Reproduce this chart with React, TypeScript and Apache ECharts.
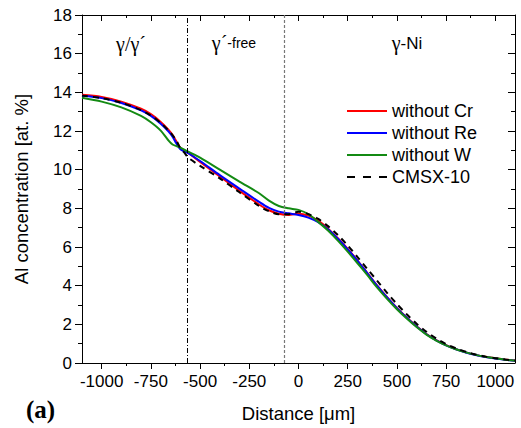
import React, { useEffect, useRef } from "react";
import * as echarts from "echarts";

const distance = [-1100, -1000, -900, -800, -750, -700, -660, -640, -620, -600, -580, -560, -500, -400, -300, -200, -150, -100, -50, 0, 50, 100, 150, 200, 250, 300, 350, 400, 450, 500, 550, 600, 650, 700, 750, 800, 850, 900, 950, 1000, 1050, 1100];
const withoutCr = [13.87, 13.76, 13.52, 13.15, 12.87, 12.47, 12.06, 11.8, 11.45, 11.12, 10.98, 10.87, 10.4, 9.65, 8.9, 8.2, 7.9, 7.72, 7.66, 7.72, 7.62, 7.36, 6.95, 6.45, 5.9, 5.3, 4.65, 4.0, 3.4, 2.85, 2.35, 1.9, 1.5, 1.18, 0.92, 0.72, 0.55, 0.42, 0.32, 0.24, 0.18, 0.13];
const withoutRe = [13.82, 13.7, 13.45, 13.07, 12.78, 12.38, 11.97, 11.7, 11.35, 11.05, 10.95, 10.85, 10.45, 9.72, 9.02, 8.33, 8.02, 7.83, 7.74, 7.66, 7.52, 7.28, 6.92, 6.43, 5.88, 5.28, 4.64, 3.99, 3.39, 2.84, 2.34, 1.89, 1.49, 1.17, 0.91, 0.71, 0.54, 0.41, 0.31, 0.23, 0.17, 0.12];
const withoutW = [13.72, 13.52, 13.22, 12.78, 12.45, 12.02, 11.5, 11.3, 11.22, 11.14, 11.03, 10.93, 10.62, 10.0, 9.38, 8.78, 8.4, 8.12, 8.0, 7.92, 7.7, 7.3, 6.85, 6.33, 5.76, 5.16, 4.54, 3.9, 3.32, 2.78, 2.3, 1.86, 1.47, 1.16, 0.91, 0.71, 0.55, 0.42, 0.32, 0.24, 0.17, 0.12];
const cmsx10 = [13.83, 13.7, 13.46, 13.08, 12.8, 12.42, 12.02, 11.78, 11.5, 11.1, 10.88, 10.62, 10.2, 9.55, 8.83, 8.12, 7.85, 7.7, 7.7, 7.82, 7.7, 7.45, 7.08, 6.62, 6.08, 5.48, 4.86, 4.25, 3.63, 3.05, 2.52, 2.03, 1.62, 1.27, 0.98, 0.76, 0.58, 0.44, 0.33, 0.25, 0.18, 0.13];

const xMajorTicks = [-1000, -750, -500, -250, 0, 250, 500, 750, 1000];
const xMinorTicks = [-875, -625, -375, -125, 125, 375, 625, 875];
const boundaries = [-565, -70];
const seriesNames = ["without Cr", "without Re", "without W", "CMSX-10"];
const seriesColors = ["#ff0000", "#0000ff", "#138a13", "#000000"];

export default function App() {
  const ref = useRef<HTMLDivElement>(null);
  useEffect(() => {
    const chart = echarts.init(ref.current!, null, { renderer: "svg" });
    const pair = (ys: number[]) => distance.map((x, i) => [x, ys[i]]);
    const sans = "'Liberation Sans', Arial, sans-serif";
    const serif = "'Liberation Serif', 'Times New Roman', serif";
    const black = { color: "#000", width: 1 };
    const baseX = { type: "value", min: -1100, max: 1100, splitLine: { show: false } };
    const baseY = { type: "value", min: 0, max: 18, interval: 2, splitLine: { show: false } };
    const solidIcon = "path://M0,0h40v2h-40z";
    const dashIcon = "path://M0,0h8v2h-8zM16,0h8v2h-8zM32,0h8v2h-8z";
    const lineSeries = (i: number, ys: number[], type: any, z: number) => ({
      name: seriesNames[i],
      type: "line",
      data: pair(ys),
      symbol: "none",
      showSymbol: false,
      smooth: 0.3,
      z,
      lineStyle: { color: seriesColors[i], width: 2, type },
      itemStyle: { color: seriesColors[i] },
    });
    const series: any[] = [
      lineSeries(0, withoutCr, "solid", 2),
      lineSeries(1, withoutRe, "solid", 3),
      lineSeries(2, withoutW, "solid", 4),
      lineSeries(3, cmsx10, [6, 5], 5),
    ];
    series[0].markLine = {
      silent: true,
      symbol: "none",
      label: { show: false },
      data: [
        { xAxis: boundaries[0], lineStyle: { color: "#000", width: 1, type: [5, 2, 1, 2] } },
        { xAxis: boundaries[1], lineStyle: { color: "#777", width: 1.2, type: [3, 2] } },
      ],
    };
    chart.setOption({
      animation: false,
      backgroundColor: "#fff",
      grid: { left: 82, top: 15, width: 433, height: 349 },
      legend: {
        left: 342,
        top: 97,
        orient: "vertical",
        itemWidth: 40,
        itemHeight: 14,
        itemGap: 4,
        data: seriesNames.map((name, i) => ({
          name,
          icon: i === 3 ? dashIcon : solidIcon,
          itemStyle: { color: seriesColors[i] },
        })),
        textStyle: { fontSize: 18, fontFamily: sans, color: "#000", lineHeight: 18 },
      },
      xAxis: [
        {
          ...baseX,
          position: "bottom",
          axisLine: { show: true, onZero: false, lineStyle: black },
          axisTick: { show: true, inside: false, length: 6, customValues: xMajorTicks, lineStyle: black },
          axisLabel: { customValues: xMajorTicks, color: "#000", fontSize: 17, fontFamily: sans, margin: 10, formatter: (v: number) => String(v) },
          name: "Distance [μm]",
          nameLocation: "middle",
          nameGap: 41,
          nameTextStyle: { fontSize: 18.5, fontFamily: sans, color: "#000" },
        },
        {
          ...baseX,
          position: "bottom",
          axisLine: { show: false, onZero: false },
          axisTick: { show: true, inside: false, length: 3, customValues: xMinorTicks, lineStyle: black },
          axisLabel: { show: false },
        },
        {
          ...baseX,
          position: "top",
          axisLine: { show: true, onZero: false, lineStyle: black },
          axisTick: { show: true, inside: true, length: 6, customValues: xMajorTicks, lineStyle: black },
          axisLabel: { show: false },
        },
        {
          ...baseX,
          position: "top",
          axisLine: { show: false, onZero: false },
          axisTick: { show: true, inside: true, length: 3, customValues: xMinorTicks, lineStyle: black },
          axisLabel: { show: false },
        },
      ],
      yAxis: [
        {
          ...baseY,
          position: "left",
          axisLine: { show: true, onZero: false, lineStyle: black },
          axisTick: { show: true, inside: false, length: 7, lineStyle: black },
          minorTick: { show: true, splitNumber: 2, length: 4, lineStyle: black },
          minorSplitLine: { show: false },
          axisLabel: { color: "#000", fontSize: 17, fontFamily: sans, margin: 10 },
          name: "Al concentration [at. %]",
          nameLocation: "middle",
          nameGap: 51,
          nameTextStyle: { fontSize: 18.5, fontFamily: sans, color: "#000" },
        },
        {
          ...baseY,
          position: "right",
          axisLine: { show: true, onZero: false, lineStyle: black },
          axisTick: { show: true, inside: true, length: 7, lineStyle: black },
          minorTick: { show: true, splitNumber: 2, length: 4, lineStyle: black },
          minorSplitLine: { show: false },
          axisLabel: { show: false },
        },
      ],
      graphic: [
        {
          type: "text",
          x: 131,
          y: 44,
          style: { text: "γ/γ´", font: `20px ${serif}`, fill: "#000", textAlign: "center", textVerticalAlign: "middle" },
        },
        {
          type: "text",
          x: 234,
          y: 43,
          style: {
            text: "{a|γ´}{b|-free}",
            fill: "#000",
            textAlign: "center",
            textVerticalAlign: "middle",
            rich: {
              a: { fontSize: 20, fontFamily: serif, fill: "#000" },
              b: { fontSize: 14, fontFamily: sans, fill: "#000" },
            },
          },
        },
        {
          type: "text",
          x: 407,
          y: 43,
          style: {
            text: "{a|γ}{b|-Ni}",
            fill: "#000",
            textAlign: "center",
            textVerticalAlign: "middle",
            rich: {
              a: { fontSize: 20, fontFamily: serif, fill: "#000" },
              b: { fontSize: 17, fontFamily: sans, fill: "#000" },
            },
          },
        },
        {
          type: "text",
          x: 26,
          y: 409,
          style: { text: "(a)", font: `bold 25px ${serif}`, fill: "#000", textAlign: "left", textVerticalAlign: "middle" },
        },
      ],
      series,
    });
    return () => chart.dispose();
  }, []);
  return <div ref={ref} style={{ position: "fixed", left: 0, top: 0, width: 521, height: 428, background: "#fff" }} />;
}
